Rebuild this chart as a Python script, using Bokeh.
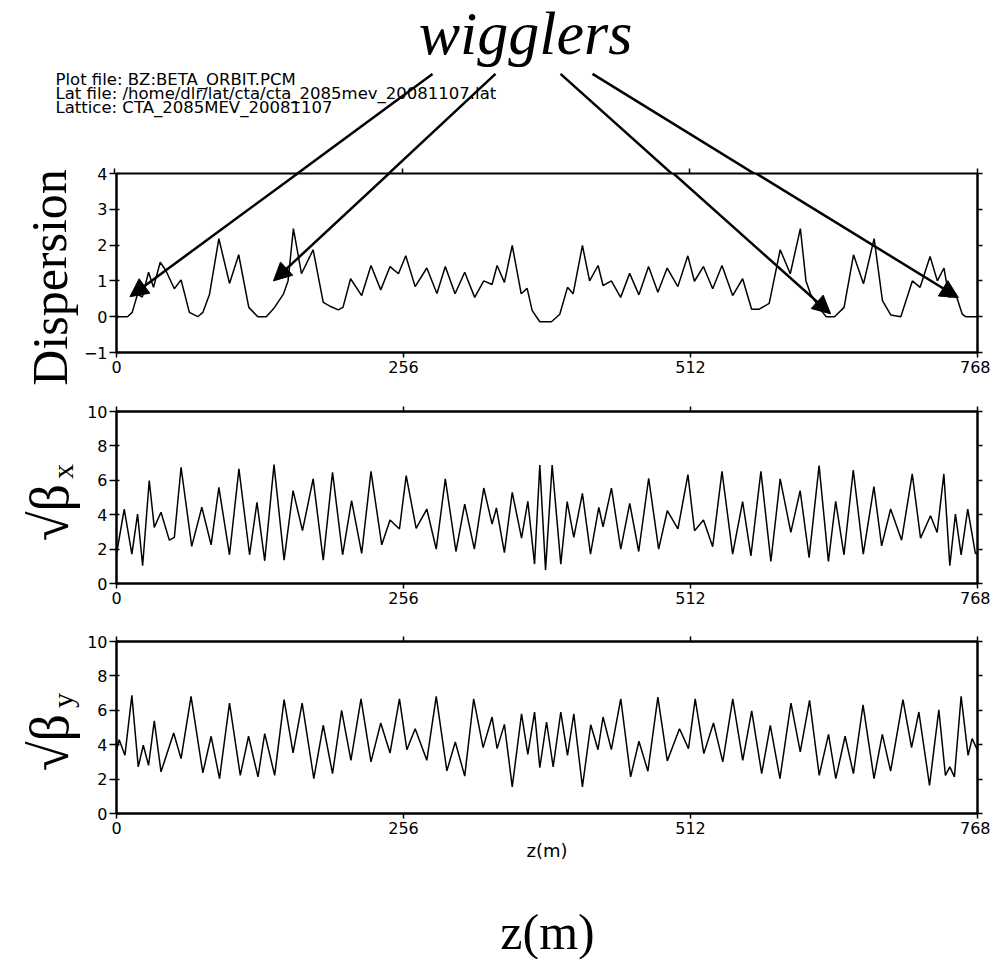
from bokeh.plotting import figure
from bokeh.layouts import column, row
from bokeh.models import Range1d, FixedTicker, LinearAxis, Label, Arrow, NormalHead
from bokeh.embed import file_html
from bokeh.resources import INLINE

# ---------------- data ----------------
disp_z = [0, 9.8, 14, 18.8, 23, 28.6, 33, 39, 44, 51.6,
          57.6, 65, 72.5, 77, 83, 91.3, 100.8, 109, 118, 126,
          133.6, 141, 149, 153, 157.8, 165, 175.4, 184.4, 190, 197.8,
          202, 208.8, 218.7, 227, 235.7, 244, 251.5, 258, 266.4, 276.8,
          285.8, 293.3, 302, 310.6, 319.5, 327.6, 335, 339.5, 346, 353,
          361, 366.3, 370.8, 377.6, 388, 395.4, 402.3, 407.3, 415.6, 422,
          429.6, 434, 441.4, 449.7, 457.7, 466, 474.6, 482.9, 491.2, 500.7,
          509.6, 515.5, 523.5, 531.8, 540.1, 549.6, 558.5, 566.5, 573.3, 582.2,
          592, 601, 610, 615, 619, 626.5, 633, 640.5, 649, 657.4,
          666.3, 675.8, 683.2, 690.6, 699.6, 709.9, 716.8, 725.7, 732.2, 738.1,
          742.6, 748.5, 754.4, 757.4, 768]
disp_v = [0, 0, 0.12, 0.63, 0.55, 1.24, 0.82, 1.52, 1.29, 0.78,
          1.03, 0.12, 0, 0.12, 0.63, 2.18, 0.93, 1.73, 0.26, 0,
          0, 0.26, 0.64, 1.0, 2.46, 1.2, 1.87, 0.4, 0.3, 0.19,
          0.26, 1.06, 0.59, 1.43, 0.75, 1.4, 1.2, 1.7, 0.84, 1.36,
          0.65, 1.4, 0.64, 1.24, 0.54, 1.0, 0.9, 1.43, 0.96, 1.99,
          0.64, 0.79, 0.17, -0.14, -0.14, 0.07, 0.82, 0.64, 1.99, 1.0,
          1.43, 0.87, 1.0, 0.54, 1.21, 0.61, 1.4, 0.68, 1.36, 0.84,
          1.7, 0.99, 1.4, 0.78, 1.43, 0.59, 1.06, 0.21, 0.21, 0.37,
          1.87, 1.2, 2.46, 1.0, 0.64, 0.26, 0, 0, 0.26, 1.73,
          0.92, 2.18, 0.45, 0.05, 0, 1.0, 0.82, 1.68, 1.0, 1.36,
          0.54, 0.64, 0.07, 0, 0]

bx_z = [0, 6.9, 13.7, 18.8, 23.3, 29.2, 33.7, 39.7, 47.1, 51.6,
        57.6, 67.1, 76.1, 84.4, 91.3, 100.8, 109.2, 118.7, 125.3, 132.2,
        140.5, 149.5, 157.5, 165.9, 175.4, 184.4, 192.7, 201.7, 209.7, 218.7,
        227, 236.6, 244, 252.4, 258.4, 267.3, 276.8, 285.2, 293.3, 302.8,
        310.6, 319.2, 327.6, 335, 338.9, 346, 353, 361.3, 366.9, 372.9,
        377.6, 382.7, 388.6, 396.3, 402, 407.9, 415.6, 422.8, 430.2, 434,
        441.5, 449.8, 457.8, 465.8, 474.7, 483.6, 491.3, 500.8, 509.7, 515.6,
        523.6, 531.8, 540.1, 549.6, 558.5, 565.9, 574.8, 583.7, 592, 601.5,
        609.8, 617.8, 626.7, 635, 641.5, 648.9, 657.2, 666.1, 675.6, 682.5,
        690.5, 700.3, 709.8, 717.2, 726.1, 732, 738, 743.3, 748.3, 753.4,
        759.3, 766.1, 768]
bx_v = [1.71, 4.33, 1.71, 4.04, 1.03, 5.98, 3.26, 4.14, 2.52, 2.68,
        6.76, 2.16, 4.43, 2.25, 5.59, 1.67, 6.66, 1.67, 4.72, 1.32,
        6.91, 1.36, 5.4, 3.07, 6.08, 1.36, 6.47, 1.67, 4.82, 1.75,
        6.52, 2.25, 3.69, 3.17, 6.27, 3.2, 4.33, 2.0, 6.08, 1.86,
        4.62, 2.0, 5.55, 3.46, 4.39, 1.8, 5.3, 2.64, 4.78, 1.13,
        6.89, 0.78, 6.89, 1.13, 4.76, 2.68, 5.24, 1.71, 4.43, 3.3,
        5.55, 2.0, 4.66, 1.86, 6.12, 2.0, 4.23, 3.17, 6.33, 3.07,
        3.69, 2.14, 6.52, 1.71, 4.76, 1.61, 6.52, 1.28, 6.08, 2.97,
        5.4, 1.51, 6.85, 1.28, 4.78, 1.67, 6.6, 1.71, 5.63, 2.19,
        4.33, 2.52, 6.37, 2.64, 3.94, 2.97, 6.37, 1.03, 4.04, 1.67,
        4.33, 1.75, 1.75]

by_z = [0, 2.4, 7.5, 13.7, 19.4, 23.9, 28.6, 33.7, 39.7, 51,
        57.6, 66.5, 77, 84.4, 91.9, 100.8, 110.4, 117.8, 126.2, 132.2,
        141.1, 149.5, 157.5, 165.6, 176, 184.4, 192.7, 200.8, 209.1, 218.1,
        227, 235.7, 244, 252.4, 259, 266.4, 276.8, 285.2, 294.7, 302.2,
        310.6, 318.6, 327, 335, 339.5, 346, 353, 361.3, 366.9, 372.9,
        377.6, 383.6, 389.5, 396.3, 402.3, 407.9, 415.6, 423, 429.5, 434,
        441.4, 449.8, 458.6, 466, 474, 482.9, 491.3, 502.2, 510.2, 516.2,
        523.9, 532.5, 540.8, 549.7, 558.6, 566.6, 575.5, 583.2, 591.8, 601.6,
        609.9, 618.2, 626.8, 635.1, 641.6, 649.9, 657.3, 665.9, 675.7, 683.1,
        690.5, 701.5, 709.2, 715.7, 725.2, 733.5, 739.4, 743.3, 747.4, 753.4,
        759.6, 763.2, 768]
by_v = [3.68, 4.29, 3.38, 6.87, 2.71, 3.97, 2.8, 5.38, 2.42, 4.68,
        3.19, 6.81, 2.36, 4.49, 2.03, 6.42, 2.22, 4.49, 2.13, 4.64,
        2.22, 6.62, 3.52, 6.42, 2.03, 5.13, 2.32, 6.0, 3.09, 6.67,
        3.0, 5.26, 3.52, 6.67, 3.71, 4.93, 3.09, 6.81, 2.48, 4.16,
        2.17, 6.67, 3.83, 5.61, 3.77, 5.18, 1.55, 5.8, 3.44, 5.9,
        2.67, 5.32, 2.71, 5.9, 3.38, 5.8, 1.55, 5.16, 3.71, 5.61,
        3.71, 6.67, 2.13, 4.2, 2.46, 6.77, 3.06, 4.93, 3.77, 6.67,
        3.48, 5.26, 3.0, 6.67, 3.09, 5.96, 2.32, 5.13, 2.03, 6.42,
        3.58, 6.58, 2.22, 4.6, 2.03, 4.49, 2.32, 6.32, 2.03, 4.6,
        2.46, 6.62, 3.83, 5.9, 1.64, 6.03, 2.22, 2.71, 2.13, 6.81,
        3.38, 4.35, 3.68]

x_ticks = [0, 256, 512, 768]
disp_ticks = [-1, 0, 1, 2, 3, 4]
beta_ticks = [0, 2, 4, 6, 8, 10]

# wiggler locations pointed at (z in m, dispersion value)
wig_z = [12, 140, 637, 751]
wig_d = [0.56, 1.0, 0.08, 0.53]

header_lines = ["Plot file: BZ:BETA_ORBIT.PCM",
                "Lat file: /home/dlr/lat/cta/cta_2085mev_20081107.lat",
                "Lattice: CTA_2085MEV_20081107"]

# ---------------- layout (page pixels; the page has no margin) ----------------
PAGE_W = 990
PAGE_H = 959
LEFT_W = 80                  # width of the column holding the big y labels
FX0, FX1 = 114, 977          # panel frame left / right on the page
HEAD_H = 174                 # header figure: page y 0 .. 174
HEAD_FRAME_BOTTOM = 173      # page y of the header frame bottom
OVERLAP = 13                 # the panels start 13 px before the header ends
P1 = (161, 392, 173, 352)    # fig top, fig bottom, frame top, frame bottom
P2 = (392, 622, 411, 583)
P3 = (622, 870, 641, 813)
SMALL_FONT = "DejaVu Sans"
SERIF = "Liberation Serif"
TICK_FONT_SIZE = "16px"


def zx(px):
    """page x -> z (m)"""
    return (px - FX0) * 768.0 / (FX1 - FX0)


def blank(ticks):
    return {t: "" for t in ticks}


def plain_fig(w, h, xr, yr, fill="white"):
    f = figure(width=w, height=h, x_range=xr, y_range=yr,
               output_backend="svg", toolbar_location=None,
               x_axis_location=None, y_axis_location=None,
               min_border_left=0, min_border_right=0,
               min_border_top=0, min_border_bottom=0)
    f.grid.visible = False
    f.outline_line_color = None
    f.background_fill_color = fill
    f.border_fill_color = fill
    return f


def style_axis(ax):
    ax.axis_line_color = "black"
    ax.axis_line_width = 2
    ax.major_tick_line_color = "black"
    ax.major_tick_line_width = 1.5
    ax.minor_tick_line_color = None
    ax.major_label_text_font = SMALL_FONT
    ax.major_label_text_color = "black"


def make_panel(geom, yr, yticks, top_axis=True):
    fig_top, fig_bottom, frame_top, frame_bottom = geom
    p = figure(width=PAGE_W - LEFT_W, height=fig_bottom - fig_top,
               x_range=Range1d(0, 768), y_range=Range1d(*yr),
               output_backend="svg", toolbar_location=None,
               x_axis_location=None, y_axis_location=None,
               min_border_left=FX0 - LEFT_W, min_border_right=PAGE_W - FX1,
               min_border_top=frame_top - fig_top,
               min_border_bottom=fig_bottom - frame_bottom)
    p.grid.visible = False
    p.outline_line_color = "black"
    p.outline_line_width = 2
    p.background_fill_color = "white"
    p.border_fill_color = None       # transparent border

    bottom = LinearAxis(ticker=FixedTicker(ticks=x_ticks), major_tick_out=5, major_tick_in=0,
                        major_label_standoff=3)
    left = LinearAxis(ticker=FixedTicker(ticks=yticks), major_tick_out=7, major_tick_in=3,
                      major_label_standoff=2)
    right = LinearAxis(ticker=FixedTicker(ticks=yticks), major_tick_out=5, major_tick_in=0,
                       major_label_standoff=0, major_label_overrides=blank(yticks))
    for ax in (bottom, left, right):
        style_axis(ax)
    bottom.major_label_text_font_size = TICK_FONT_SIZE
    left.major_label_text_font_size = TICK_FONT_SIZE
    right.major_label_text_font_size = "1px"
    p.add_layout(bottom, "below")
    p.add_layout(left, "left")
    p.add_layout(right, "right")
    if top_axis:
        top = LinearAxis(ticker=FixedTicker(ticks=x_ticks), major_tick_out=5, major_tick_in=0,
                         major_label_standoff=0, major_label_overrides=blank(x_ticks))
        style_axis(top)
        top.major_label_text_font_size = "1px"
        p.add_layout(top, "above")

    def yd(py):
        return yr[1] - (py - frame_top) * (yr[1] - yr[0]) / (frame_bottom - frame_top)
    return p, yd


def text_label(x, y, text, font, size, style="normal", angle=0.0, align="center"):
    return Label(x=x, y=y, text=text, text_font=font, text_font_size=size,
                 text_font_style=style, text_color="black", angle=angle,
                 text_align=align, text_baseline="middle")


# ---------------- header (page coordinates) ----------------
head = plain_fig(PAGE_W, HEAD_H, Range1d(0, PAGE_W), Range1d(HEAD_FRAME_BOTTOM, 0))
head.margin = (0, 0, -OVERLAP, 0)
head.extra_x_ranges = {"z": Range1d(zx(0), zx(PAGE_W))}
head_ticks = LinearAxis(x_range_name="z", ticker=FixedTicker(ticks=x_ticks),
                        major_tick_out=0, major_tick_in=6, major_label_standoff=0,
                        major_label_overrides=blank(x_ticks))
style_axis(head_ticks)
head_ticks.axis_line_color = None
head_ticks.major_label_text_font_size = "1px"
head.add_layout(head_ticks, "below")

for i, t in enumerate(header_lines):
    head.add_layout(text_label(55, 79 + 13.6 * i, t, SMALL_FONT, "16.5px", align="left"))
head.add_layout(text_label(525, 32, "wigglers", SERIF, "62px", style="italic"))

# arrow start points (page px) below the word "wigglers"
starts = [(432, 73), (495, 73), (560, 73), (592, 73)]

# ---------------- panel 1: dispersion ----------------
p1, yd1 = make_panel(P1, (-1, 4), disp_ticks, top_axis=False)
p1.line(disp_z, disp_v, line_color="black", line_width=1.5)

for (sx, sy), wz, wd in zip(starts, wig_z, wig_d):
    tip_px = FX0 + wz * (FX1 - FX0) / 768.0
    tip_py = P1[2] + (4 - wd) * (P1[3] - P1[2]) / 5.0
    head.add_layout(Arrow(x_start=sx, y_start=sy, x_end=tip_px, y_end=tip_py, end=None,
                          line_color="black", line_width=2.5))
    p1.add_layout(Arrow(x_start=zx(sx), y_start=yd1(sy), x_end=wz, y_end=wd,
                        line_color="black", line_width=2.5,
                        end=NormalHead(size=18, fill_color="black", line_color="black")))

# ---------------- panel 2: sqrt(beta_x) ----------------
p2, _ = make_panel(P2, (0, 10), beta_ticks)
p2.line(bx_z, bx_v, line_color="black", line_width=1.5)

# ---------------- panel 3: sqrt(beta_y) ----------------
p3, _ = make_panel(P3, (0, 10), beta_ticks)
p3.line(by_z, by_v, line_color="black", line_width=1.5)
p3.below[0].axis_label = "z(m)"
p3.below[0].axis_label_text_font = SMALL_FONT
p3.below[0].axis_label_text_font_style = "normal"
p3.below[0].axis_label_text_font_size = "18px"
p3.below[0].axis_label_text_color = "black"
p3.below[0].axis_label_standoff = 3

# ---------------- left column with the big y labels (page coordinates) ----------------
UP = 1.5708
left = plain_fig(LEFT_W, P3[1] - P1[0], Range1d(0, LEFT_W), Range1d(P3[1], P1[0]), fill=None)
left.add_layout(text_label(49, 277, "Dispersion", SERIF, "50px", angle=UP))
left.add_layout(text_label(49, 512, "\u221a\u03b2", SERIF, "54px", angle=UP))
left.add_layout(text_label(62, 471, "x", SERIF, "30px", angle=UP))
left.add_layout(text_label(49, 742, "\u221a\u03b2", SERIF, "54px", angle=UP))
left.add_layout(text_label(62, 700, "y", SERIF, "30px", angle=UP))

# ---------------- footer with the big z(m) ----------------
foot = plain_fig(PAGE_W, PAGE_H - P3[1], Range1d(0, PAGE_W), Range1d(PAGE_H, P3[1]))
foot.add_layout(text_label(547, 931, "z(m)", SERIF, "50px"))

layout = column(head, row(left, column(p1, p2, p3, spacing=0), spacing=0), foot, spacing=0)
open("out.html", "w").write(file_html(layout, INLINE))
